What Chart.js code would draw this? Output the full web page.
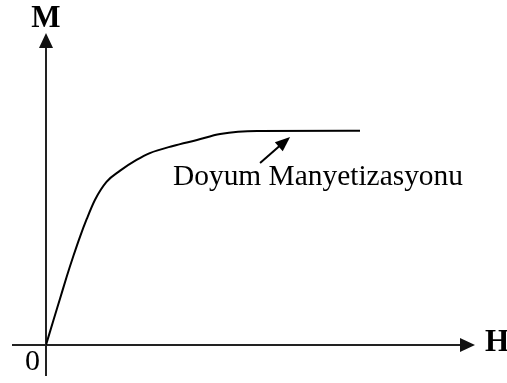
<!DOCTYPE html>
<html>
<head>
<meta charset="utf-8">
<script src="https://cdn.jsdelivr.net/npm/chart.js@4"></script>
<style>
  html, body { margin: 0; padding: 0; background: #fff; }
  #wrap { width: 507px; height: 383px; position: relative; }
</style>
</head>
<body>
<div id="wrap"><canvas id="chart"></canvas></div>
<script>
// magnetization curve (H and M in arbitrary units, 0..100)
const hValues = [0, 1.7, 3.3, 4.8, 6.4, 7.9, 9.5, 11.4, 14.1, 17.2, 21.1, 24.2, 29.6, 35.2, 40.6, 49.2, 73.2];
const mValues = [0, 7.8, 15.0, 21.8, 28.6, 34.6, 40.4, 46.5, 52.3, 55.8, 59.3, 61.5, 63.8, 65.7, 67.6, 68.6, 68.7];

const axisLabels = { x: "H", y: "M", origin: "0" };
const annotationText = "Doyum Manyetizasyonu";

function arrowHead(ctx, x1, y1, x2, y2, len, half) {
    const a = Math.atan2(y2 - y1, x2 - x1);
    ctx.beginPath();
    ctx.moveTo(x2, y2);
    ctx.lineTo(x2 - len * Math.cos(a) + half * Math.sin(a), y2 - len * Math.sin(a) - half * Math.cos(a));
    ctx.lineTo(x2 - len * Math.cos(a) - half * Math.sin(a), y2 - len * Math.sin(a) + half * Math.cos(a));
    ctx.closePath();
    ctx.fill();
}

const axesPlugin = {
    id: 'arrow_axes',
    beforeDatasetsDraw: (chart) => {
        const ctx = chart.ctx;
        const xs = chart.scales.x, ys = chart.scales.y;
        const x0 = xs.getPixelForValue(0), y0 = ys.getPixelForValue(0);
        const xEnd = xs.getPixelForValue(100), yEnd = ys.getPixelForValue(100);
        ctx.save();
        ctx.strokeStyle = "#222";
        ctx.fillStyle = "#111";
        ctx.lineWidth = 2;
        // y axis
        ctx.beginPath();
        ctx.moveTo(x0, 376);
        ctx.lineTo(x0, yEnd + 10);
        ctx.stroke();
        arrowHead(ctx, x0, yEnd + 20, x0, yEnd, 15, 7);
        // x axis
        ctx.beginPath();
        ctx.moveTo(12, y0);
        ctx.lineTo(xEnd - 10, y0);
        ctx.stroke();
        arrowHead(ctx, xEnd - 20, y0, xEnd, y0, 15, 7);

        ctx.fillStyle = "#000";
        ctx.textBaseline = "alphabetic";
        ctx.textAlign = "center";
        ctx.font = "bold 31px 'Liberation Serif'";
        ctx.fillText(axisLabels.y, x0, 27);
        ctx.textAlign = "left";
        ctx.fillText(axisLabels.x, xEnd + 10, y0 + 6);
        ctx.font = "30px 'Liberation Serif'";
        ctx.fillText(axisLabels.origin, 25, y0 + 25);
        ctx.restore();
    },
    afterDatasetsDraw: (chart) => {
        const ctx = chart.ctx;
        const xs = chart.scales.x, ys = chart.scales.y;
        ctx.save();
        // annotation arrow
        const tx = xs.getPixelForValue(49.9), ty = ys.getPixelForValue(58.3);
        const hx = xs.getPixelForValue(56.9), hy = ys.getPixelForValue(66.7);
        ctx.strokeStyle = "#000";
        ctx.fillStyle = "#000";
        ctx.lineWidth = 2;
        ctx.beginPath();
        ctx.moveTo(tx, ty);
        ctx.lineTo(hx - 6, hy + 5);
        ctx.stroke();
        arrowHead(ctx, tx, ty, hx, hy, 15, 6);
        // annotation text, stretched to the width seen in the picture
        ctx.font = "30px 'Liberation Serif'";
        const w = ctx.measureText(annotationText).width;
        const lx = xs.getPixelForValue(29.6), ly = ys.getPixelForValue(51.3);
        ctx.translate(lx, ly);
        ctx.scale(290 / w, 1);
        ctx.textAlign = "left";
        ctx.textBaseline = "alphabetic";
        ctx.fillText(annotationText, 0, 0);
        ctx.restore();
    }
};

const ctx = document.getElementById('chart').getContext('2d');
new Chart(ctx, {
    type: 'line',
    data: {
        datasets: [{
            data: hValues.map((h, i) => ({ x: h, y: mValues[i] })),
            borderColor: "#000",
            borderWidth: 2,
            pointRadius: 0,
            fill: false,
            cubicInterpolationMode: 'monotone'
        }]
    },
    options: {
        responsive: true,
        maintainAspectRatio: false,
        animation: false,
        layout: { padding: { left: 46, right: 32, top: 33, bottom: 38 } },
        plugins: { legend: { display: false }, tooltip: { enabled: false } },
        scales: {
            x: { type: 'linear', min: 0, max: 100, display: false },
            y: { type: 'linear', min: 0, max: 100, display: false }
        }
    },
    plugins: [axesPlugin]
});
</script>
</body>
</html>
